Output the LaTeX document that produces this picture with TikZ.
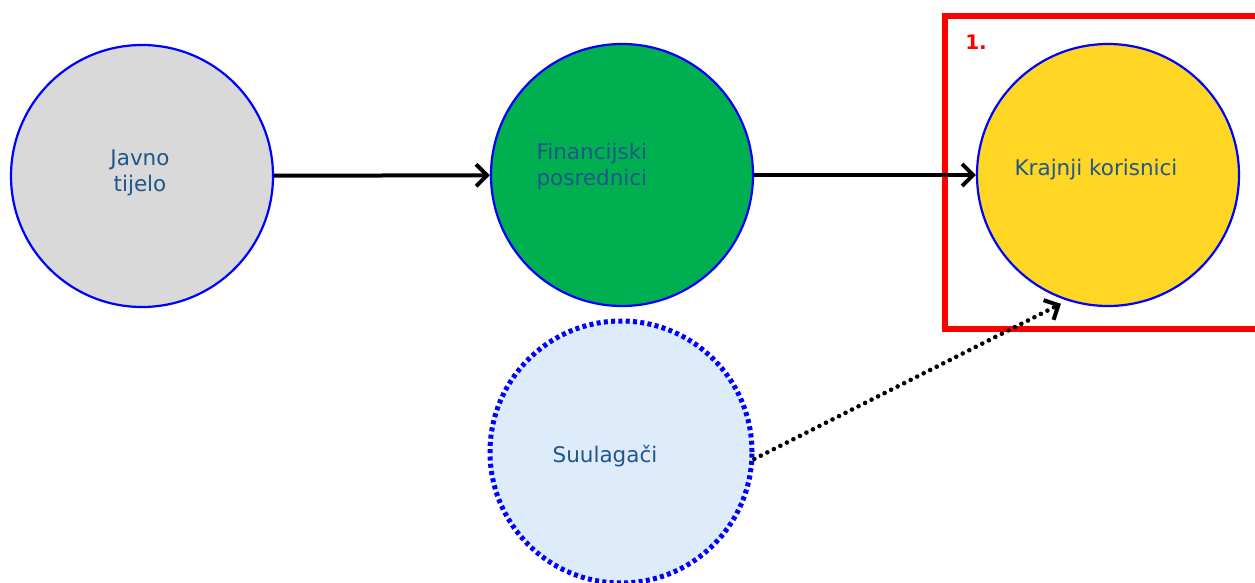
\documentclass[tikz,border=0pt]{standalone}
\usepackage{fontspec}
\setmainfont{DejaVu Sans}
\usetikzlibrary{arrows.meta}
\definecolor{txtblue}{HTML}{22558A}
\definecolor{cgray}{HTML}{D9D9D9}
\definecolor{cgreen}{HTML}{00B050}
\definecolor{cyellow}{HTML}{FFD624}
\definecolor{clblue}{HTML}{DEEBFB}
\begin{document}
\begin{tikzpicture}[x=1pt,y=-1pt,
  circ/.style={circle,minimum size=262pt,inner sep=0pt,draw=blue,line width=2.2pt},
  lbl/.style={text=txtblue,font=\fontsize{21.5}{26}\selectfont,align=center},
  conn/.style={line width=4pt,-{Straight Barb[length=11pt,width=22pt,line width=4pt]}},
  dotconn/.style={line width=4.6pt,line cap=round,dash pattern=on 0pt off 7.3pt,-{Straight Barb[length=11pt,width=22pt,line width=4pt,line cap=butt]}}]
\clip (0,0) rectangle (1255,583);
\useasboundingbox (0,0) rectangle (1255,583);
\fill[white] (0,0) rectangle (1255,583);
\node[circ,fill=cgray] (jav) at (142,176) {};
\node[circ,fill=cgreen] (fin) at (622,175) {};
\node[circ,fill=cyellow] (kor) at (1108,175) {};
\node[circ,fill=clblue,draw=blue,line width=5pt,dash pattern=on 4pt off 3.3pt] (sul) at (621,452) {};
\node[lbl] (javt) at (140,173) {Javno\\tijelo};
\node[lbl,anchor=west,align=left] (fint) at (533,167) {Financijski\\posrednici};
\node[lbl] (kort) at (1096,170) {Krajnji korisnici};
\node[lbl] (sult) at (605,456) {Suulagači};
\draw[red,line width=6.5pt] (945,16) rectangle (1275,329);
\node[text=red,font=\fontsize{20}{22}\selectfont\bfseries] (one) at (976,42) {1.};
\draw[conn] (jav) -- (fin);
\draw[conn] (fin) -- (kor);
\draw[dotconn,shorten >=7pt] (sul.-3) -- (kor.252);
\end{tikzpicture}
\end{document}
